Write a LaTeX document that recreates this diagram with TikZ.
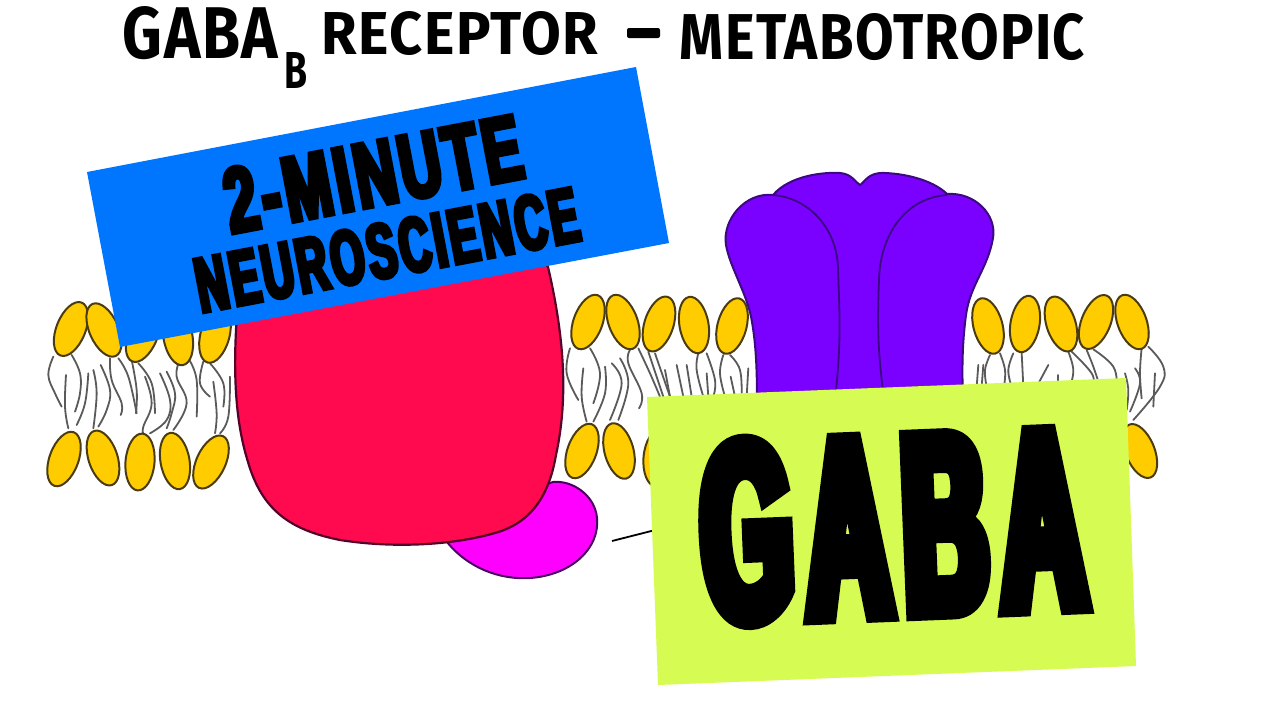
\documentclass[tikz,border=0pt]{standalone}
\usepackage{fontspec}
\usepackage{graphicx}
\usetikzlibrary{shapes.geometric}
\newfontfamily\markerfont[LetterSpace=2.5]{Fira Sans Bold}
\newfontfamily\heavygaba[FakeStretch=0.5,FakeBold=7,LetterSpace=6]{Liberation Sans Bold}
\newfontfamily\heavyminute[FakeStretch=0.62,FakeBold=5.5,LetterSpace=5]{Liberation Sans Bold}
\newfontfamily\heavyneuro[FakeStretch=0.56,FakeBold=5.5,LetterSpace=5]{Liberation Sans Bold}
\definecolor{headfill}{HTML}{FFCC00}
\definecolor{headline}{HTML}{4A3C10}
\definecolor{tailline}{HTML}{5A5A5A}
\definecolor{redfill}{HTML}{FF0A4E}
\definecolor{redline}{HTML}{55002A}
\definecolor{magfill}{HTML}{FF00FF}
\definecolor{magline}{HTML}{4A0060}
\definecolor{purfill}{HTML}{7A00FF}
\definecolor{purline}{HTML}{3B0A80}
\definecolor{bannerblue}{HTML}{0076FF}
\definecolor{labelgreen}{HTML}{D6FB52}
\tikzset{
  lipidhead/.style={ellipse,draw=headline,fill=headfill,line width=2pt,
    minimum width=57pt,minimum height=29pt,inner sep=0pt},
  lipidtail/.style={draw=tailline,line width=1.8pt,line cap=round},
  titletext/.style={inner sep=0pt,text=black},
  bigtext/.style={inner sep=0pt,text=black}
}
% head: name, x, y, tilt
\newcommand{\lipidhead}[4]{\node[lipidhead,rotate=#4] (#1) at (#2,#3) {};}
\newcommand{\lipidtail}[1]{\draw[lipidtail] plot[smooth,tension=0.7] coordinates {#1};}
\begin{document}
\begin{tikzpicture}[x=1pt,y=-1pt]
\useasboundingbox[fill=white] (0,0) rectangle (1280,720);

% fatty-acid tails, left stretch of membrane
\begin{scope}[shift={(30,280)},x=0.3333pt,y=-0.3333pt]
\lipidtail{(70,230)(55,285)(75,340)(95,380)}
\lipidtail{(125,225)(150,280)(150,340)(135,395)}
\lipidtail{(108,285)(105,380)(115,445)}
\lipidtail{(175,280)(165,370)(140,435)}
\lipidtail{(190,270)(200,340)(190,445)}
\lipidtail{(212,255)(240,330)(230,390)(205,440)}
\lipidtail{(240,235)(245,300)(275,370)(272,405)}
\lipidtail{(265,235)(295,290)(320,400)}
\lipidtail{(305,240)(320,330)(318,400)}
\lipidtail{(325,250)(365,310)(375,400)}
\lipidtail{(345,290)(365,370)(340,440)(340,460)}
\lipidtail{(390,280)(420,360)(410,420)(360,460)}
\lipidtail{(410,275)(435,340)(425,400)(410,445)}
\lipidtail{(450,240)(440,290)(470,370)(430,450)}
\lipidtail{(478,240)(500,300)(500,410)}
\lipidtail{(520,245)(510,310)(540,350)}
\lipidtail{(540,250)(580,310)(580,380)}
\lipidtail{(550,305)(560,400)(555,460)}
\lipidtail{(600,290)(595,410)(570,460)}
\end{scope}

% tails, middle stretch
\begin{scope}[shift={(560,280)},x=0.3333pt,y=-0.3333pt]
\lipidtail{(30,205)(20,280)(55,360)}
\lipidtail{(90,205)(120,280)(100,370)}
\lipidtail{(70,265)(65,350)(80,425)}
\lipidtail{(135,260)(135,340)(100,425)}
\lipidtail{(155,250)(185,310)(150,420)}
\lipidtail{(180,235)(205,310)(175,420)}
\lipidtail{(210,210)(205,250)(245,340)(237,385)}
\lipidtail{(235,205)(270,280)(300,350)}
\lipidtail{(265,215)(310,350)}
\lipidtail{(285,220)(330,350)}
\lipidtail{(315,270)(330,350)}
\lipidtail{(350,255)(370,350)}
\lipidtail{(380,255)(395,350)}
\lipidtail{(415,220)(410,270)(430,350)}
\lipidtail{(440,220)(465,300)(460,350)}
\lipidtail{(440,280)(445,350)}
\lipidtail{(490,225)(480,280)(495,350)}
\lipidtail{(510,225)(540,270)(545,350)}
\lipidtail{(512,290)(525,350)}
\lipidtail{(565,265)(560,350)}
\end{scope}

% tails, right stretch
\begin{scope}[shift={(960,280)},x=0.3333pt,y=-0.3333pt]
\lipidtail{(55,255)(50,320)}
\lipidtail{(70,255)(65,320)}
\lipidtail{(90,225)(75,270)(80,320)}
\lipidtail{(120,220)(135,270)(132,320)}
\lipidtail{(160,220)(145,270)(155,320)}
\lipidtail{(185,218)(190,320)}
\lipidtail{(265,255)(230,320)}
\lipidtail{(295,285)(295,320)}
\lipidtail{(325,215)(340,270)(330,320)}
\lipidtail{(335,215)(395,280)(400,320)}
\lipidtail{(380,210)(400,260)(420,320)}
\lipidtail{(400,208)(460,260)(470,320)}
\lipidtail{(545,205)(540,280)(545,355)}
\lipidtail{(565,200)(610,260)(600,320)(520,420)}
\lipidtail{(525,265)(540,310)(510,395)}
\lipidtail{(495,280)(505,330)(500,390)}
\lipidtail{(585,280)(580,380)}
\end{scope}

% phospholipid heads, outer and inner leaflets
\lipidhead{ta}{71}{329}{68}
\lipidhead{tb}{104}{330}{114}
\lipidhead{tc}{143}{335}{68}
\lipidhead{td}{178}{337}{100}
\lipidhead{te}{215}{335}{75}
\lipidhead{ba}{64}{459}{70}
\lipidhead{bb}{103}{458}{108}
\lipidhead{bc}{140}{462}{85}
\lipidhead{bd}{175}{461}{100}
\lipidhead{be}{211}{462}{65}
\lipidhead{tf}{588}{322}{70}
\lipidhead{tg}{623}{322}{110}
\lipidhead{th}{659}{324}{72}
\lipidhead{ti}{694}{325}{100}
\lipidhead{tj}{732}{326}{75}
\lipidhead{bf}{582}{451}{70}
\lipidhead{bg}{619}{451}{105}
\lipidhead{bh}{658}{458}{85}
\lipidhead{tk}{988}{326}{105}
\lipidhead{tl}{1025}{324}{80}
\lipidhead{tm}{1061}{324}{108}
\lipidhead{tn}{1096}{322}{68}
\lipidhead{to}{1132}{322}{110}
\lipidhead{bo}{1140}{451}{112}

% G protein subunit sitting under the large protein
\draw[fill=magfill,draw=magline,line width=2pt]
  (447,542) .. controls (468,568) and (500,580) .. (530,578)
  .. controls (572,575) and (600,548) .. (597,518)
  .. controls (595,495) and (572,480) .. (553,482)
  -- (500,500) -- cycle;

% large transmembrane protein
\draw[fill=redfill,draw=redline,line width=2.2pt]
  (236,330) .. controls (233,390) and (238,430) .. (248,462)
  .. controls (262,510) and (290,530) .. (340,540)
  .. controls (390,548) and (450,546) .. (495,533)
  .. controls (535,522) and (550,490) .. (556,455)
  .. controls (568,400) and (565,340) .. (548,267)
  .. controls (520,225) and (300,220) .. (255,262)
  .. controls (240,280) and (237,305) .. (236,330) -- cycle;

% purple receptor: outer silhouette, then the two lobe outlines
\draw[fill=purfill,draw=purline,line width=2pt]
  (757,400) .. controls (757,360) and (755,340) .. (752,322)
  .. controls (748,295) and (730,268) .. (726,245)
  .. controls (722,220) and (745,192) .. (773,195)
  .. controls (790,175) and (825,172) .. (840,173)
  .. controls (852,174) and (855,182) .. (860,185)
  .. controls (865,182) and (868,172) .. (885,173)
  .. controls (910,174) and (935,182) .. (947,194)
  .. controls (975,192) and (997,215) .. (993,238)
  .. controls (988,268) and (970,285) .. (966,315)
  .. controls (962,345) and (962,370) .. (963,400) -- cycle;
\draw[draw=purline,line width=1.8pt]
  (773,195) .. controls (810,198) and (838,230) .. (838,270)
  .. controls (840,320) and (841,345) .. (835,400);
\draw[draw=purline,line width=1.8pt]
  (947,195) .. controls (905,198) and (880,235) .. (879,280)
  .. controls (877,330) and (878,350) .. (884,400);

% label line, running under the GABA card
\coordinate (linestart) at (612,541);
\coordinate (lineend) at (675,525);
\draw[black,line width=1.8pt] (linestart) -- (lineend);

% hand-lettered heading
\node[titletext] (gaba) at (200.5,33) {\resizebox{155pt}{52pt}{\markerfont GABA}};
\node[titletext] (subb) at (295.5,70) {\resizebox{23pt}{36pt}{\markerfont B}};
\node[titletext] (receptor) at (460,33.5) {\resizebox{276pt}{43pt}{\markerfont RECEPTOR}};
\fill[black,rounded corners=2pt] (627,28) rectangle (660,38);
\node[titletext] (metabo) at (882.5,37) {\resizebox{405pt}{46pt}{\markerfont METABOTROPIC}};

% green GABA card
\path[fill=labelgreen] (647,397) -- (1126,378) -- (1136,666) -- (658,685) -- cycle;
% the emboldened display type keeps its acute apexes short with a low miter limit
\begin{scope}[miter limit=2]
\node[bigtext,rotate=2.3] (gabalabel) at (893,526)
  {\resizebox{382pt}{176pt}{\heavygaba GABA}};

% blue series banner
\path[fill=bannerblue] (87,172) -- (636,67) -- (669,243) -- (120,347) -- cycle;
\node[bigtext,rotate=10.8] (minute) at (373,174)
  {\resizebox{300pt}{64pt}{\heavyminute 2-MINUTE}};
\node[bigtext,rotate=10.8] (neuro) at (387,250)
  {\resizebox{388pt}{54pt}{\heavyneuro NEUROSCIENCE}};
\end{scope}
\end{tikzpicture}
\end{document}
